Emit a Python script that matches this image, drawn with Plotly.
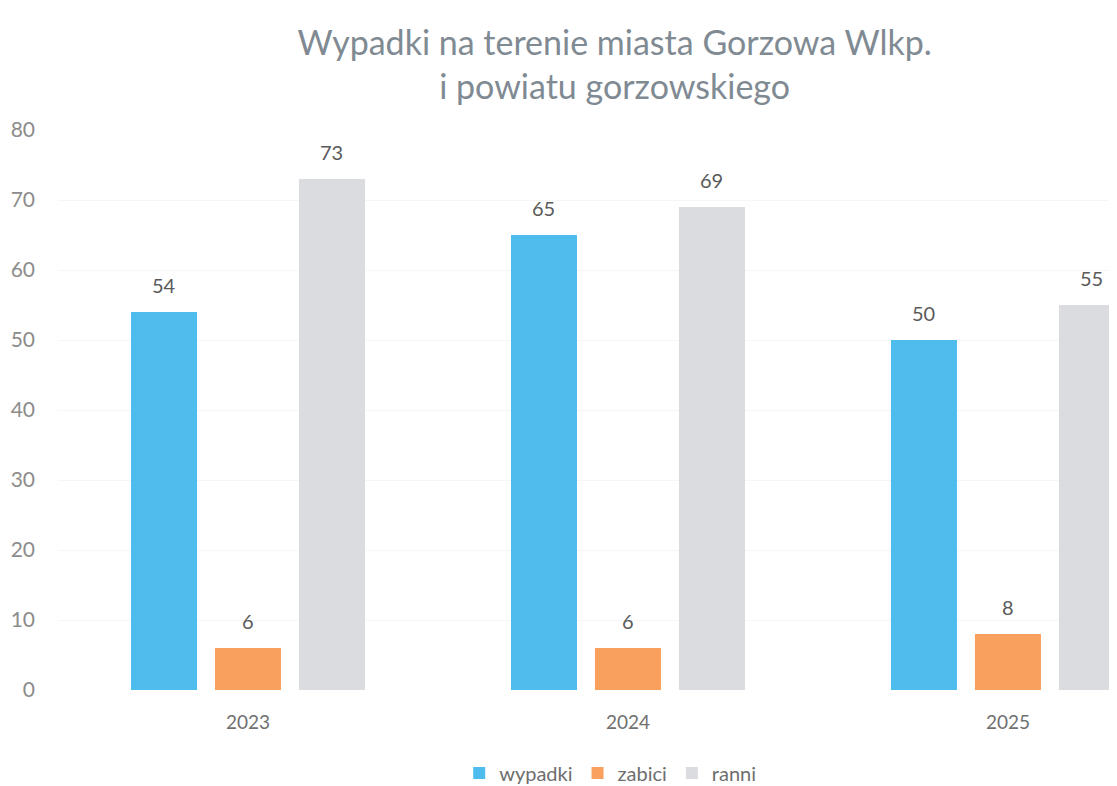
import plotly.graph_objects as go

years = ["2023", "2024", "2025"]
wypadki = [54, 65, 50]
zabici = [6, 6, 8]
ranni = [73, 69, 55]

series = [
    ("wypadki", wypadki, "#4EBDEE"),
    ("zabici", zabici, "#F9A05E"),
    ("ranni", ranni, "#DBDCE0"),
]

FONT = "Lato, Open Sans, sans-serif"
fig = go.Figure()
slot_px = 84  # horizontal distance between bar centers within a group
for i, (name, vals, color) in enumerate(series):
    fig.add_trace(go.Bar(
        x=years, y=vals, name=name,
        marker=dict(color=color, line=dict(width=0)),
        cliponaxis=True,
    ))
    for j, v in enumerate(vals):
        # category axis: annotation x uses the category's serial number
        fig.add_annotation(
            x=j, y=v, xref="x", yref="y", text=str(v), showarrow=False,
            xshift=(i - 1) * slot_px, yshift=27, yanchor="middle",
            font=dict(family=FONT, size=20, color="#5a5a5a"),
        )

fig.update_layout(
    width=1109, height=778,
    paper_bgcolor="white", plot_bgcolor="white",
    margin=dict(l=50, r=0, t=122, b=96),
    barmode="group", bargap=0.337, bargroupgap=0.214,
    title=dict(
        text="Wypadki na terenie miasta Gorzowa Wlkp.<br>i powiatu gorzowskiego",
        x=0.547, xanchor="center", xref="container",
        y=0.94, yanchor="middle", yref="container",
        font=dict(family=FONT, size=34, color="#808a93"),
    ),
    legend=dict(
        orientation="h", x=0.543, xanchor="center", xref="container",
        y=0.0167, yanchor="middle", yref="container",
        font=dict(family=FONT, size=20, color="#6e6e6e"),
        traceorder="normal",
    ),
    xaxis=dict(
        type="category", range=[-0.5, 2.287],
        showline=False, showgrid=False, ticks="",
        tickfont=dict(family=FONT, size=19, color="#707070"),
        ticklabelstandoff=19,
    ),
    yaxis=dict(
        range=[0, 80], dtick=10,
        showgrid=True, gridcolor="#f6f6f6", zeroline=False, showline=False,
        tickfont=dict(family=FONT, size=21, color="#8c8c8c"),
        ticklabelstandoff=22,
    ),
    showlegend=True,
)

fig.write_html("out.html")
